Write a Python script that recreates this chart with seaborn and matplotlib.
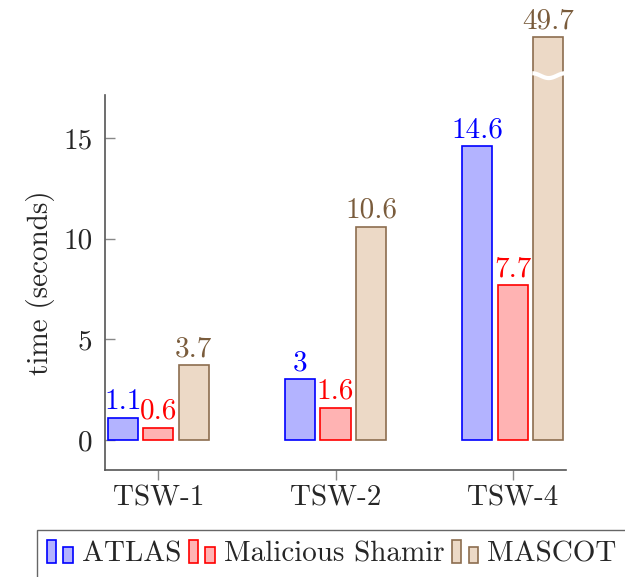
#%%
import numpy as np                           # for numerical manipulation.
import pandas as pd                          # for wrapping data.
import seaborn as sns                        # for plotting.
import matplotlib.pyplot as plt
from matplotlib.patches import Rectangle
from matplotlib.legend_handler import HandlerBase

sns.set_theme(style = "white")
plt.rcParams['font.family'] = ['cmr10', 'DejaVu Serif']   # LaTeX-ish look.
plt.rcParams['axes.formatter.use_mathtext'] = True
plt.rcParams['mathtext.fontset'] = 'cm'

#%%
# Data.
workloads = ["TSW-1", "TSW-2", "TSW-4"]
schemes = ["ATLAS", "Malicious Shamir", "MASCOT"]
atlas = [1.1, 3.0, 14.6]
shamir = [0.6, 1.6, 7.7]
mascot = [3.7, 10.6, 49.7]
yticks = [0, 5, 10, 15]
y_cap = 20          # bars taller than this are drawn broken.

fills = ["#B3B3FF", "#FFB3B3", "#ECD9C6"]
edges = ["#0000FF", "#FF0000", "#8C6D4F"]
text_colors = ["#0000FF", "#FF0000", "#7A5C3C"]

df = pd.DataFrame({
    "workload": workloads * 3,
    "scheme": [s for s in schemes for _ in workloads],
    "time": atlas + shamir + mascot,
})
df["shown"] = np.minimum(df["time"], y_cap)

#%%
class TwoBarHandler(HandlerBase):
    # pgfplots-style ybar legend image: a tall bar and a short bar.
    def __init__(self, face, edge):
        super().__init__()
        self.face, self.edge = face, edge

    def create_artists(self, legend, orig_handle, xdescent, ydescent,
                       width, height, fontsize, trans):
        x0, y0 = -xdescent, -ydescent
        r1 = Rectangle((x0, y0), 0.32 * width, height,
                       facecolor = self.face, edgecolor = self.edge, lw = 1.2, transform = trans)
        r2 = Rectangle((x0 + 0.62 * width, y0), 0.36 * width, 0.72 * height,
                       facecolor = self.face, edgecolor = self.edge, lw = 1.2, transform = trans)
        return [r1, r2]

#%%
fig = plt.figure(figsize = (6.25, 5.77), dpi = 100)
ax = fig.add_axes([0.168, 0.1854, 0.7376, 0.65])
fs = 21

sns.barplot(data = df, x = "workload", y = "shown", hue = "scheme",
            hue_order = schemes, order = workloads, palette = fills,
            saturation = 1, width = 0.6, gap = 0.15, linewidth = 1.2,
            legend = False, ax = ax)

for i, cont in enumerate(ax.containers):
    vals = df[df["scheme"] == schemes[i]]["time"].tolist()
    for bar, v in zip(cont.patches, vals):
        bar.set_edgecolor(edges[i])
        bar.set_clip_on(False)
        ax.annotate(f"{v:g}", (bar.get_x() + bar.get_width() / 2, bar.get_height()),
                    xytext = (0, 2), textcoords = "offset points",
                    ha = "center", va = "bottom", color = text_colors[i],
                    fontsize = fs, annotation_clip = False)
        if v > y_cap:
            # white wavy break mark across the truncated bar
            xs = np.linspace(bar.get_x() - 0.005, bar.get_x() + bar.get_width() + 0.01, 40)
            t = (xs - xs[0]) / (xs[-1] - xs[0])
            ys = 18.1 + 0.12 * np.sin(2 * np.pi * t + np.pi / 2)
            ax.plot(xs, ys, color = "white", lw = 3.0, clip_on = False,
                    solid_capstyle = "butt", zorder = 5)

ax.set_xlim(-0.3, 2.3)
ax.set_ylim(-1.5, 17.14)
ax.set_yticks(yticks)
ax.set_yticklabels([str(t) for t in yticks])
ax.set_xlabel("")
ax.set_ylabel("time (seconds)", fontsize = fs, labelpad = 6)

sns.despine(ax = ax)
for s in ["left", "bottom"]:
    ax.spines[s].set_color("#555555")
    ax.spines[s].set_linewidth(1.2)
ax.tick_params(axis = "y", direction = "in", length = 7, width = 1,
               color = "#888888", labelsize = fs, pad = 9, left = True)
ax.tick_params(axis = "x", direction = "out", length = 7, width = 1,
               color = "#888888", labelsize = fs, pad = 4, bottom = True)

handles = [Rectangle((0, 0), 1, 1) for _ in schemes]
fig.legend(handles, schemes, loc = "upper left",
           bbox_to_anchor = (37 / 625, 1 - 530 / 577),
           ncol = 3, fontsize = fs, frameon = True, fancybox = False,
           edgecolor = "#666666", framealpha = 1,
           handler_map = {h: TwoBarHandler(fills[i], edges[i]) for i, h in enumerate(handles)},
           handlelength = 0.9, handleheight = 0.85, handletextpad = 0.28,
           columnspacing = 0.28, borderpad = 0.35, borderaxespad = 0)

plt.savefig("out.png", dpi = 100)
